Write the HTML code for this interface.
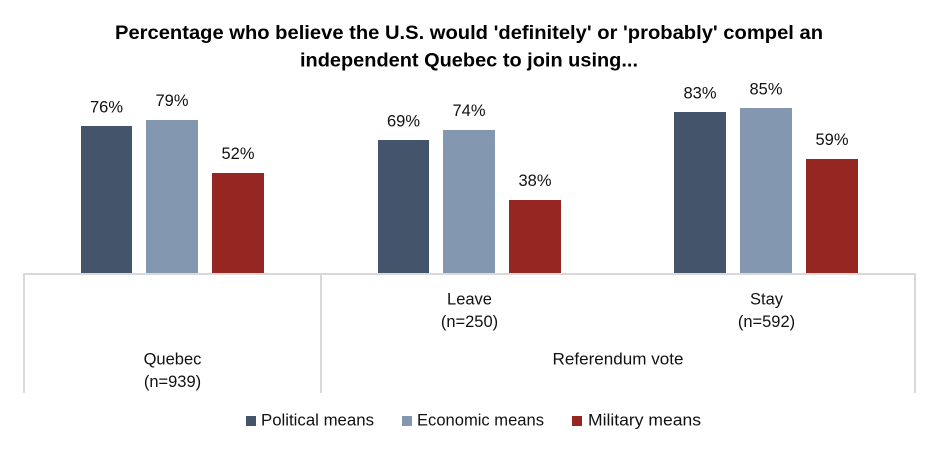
<!DOCTYPE html>
<html><head><meta charset="utf-8"><style>html,body{margin:0;padding:0;background:#fff}svg{display:block}</style></head><body>
<svg width="939" height="452" viewBox="0 0 939 452" xmlns="http://www.w3.org/2000/svg" font-family="'Liberation Sans', Arial, sans-serif">
<rect width="939" height="452" fill="#fff"/>
<text x="469" y="39" text-anchor="middle" font-size="19.5" font-weight="bold" fill="#000" textLength="708" lengthAdjust="spacingAndGlyphs">Percentage who believe the U.S. would 'definitely' or 'probably' compel an</text>
<text x="469" y="66.5" text-anchor="middle" font-size="19.5" font-weight="bold" fill="#000" textLength="338" lengthAdjust="spacingAndGlyphs">independent Quebec to join using...</text>
<g>
<rect x="81" y="126" width="51" height="147" fill="#44546A"/>
<rect x="146" y="120" width="52" height="153" fill="#8497B0"/>
<rect x="212" y="173" width="52" height="100" fill="#952622"/>
<rect x="378" y="140" width="51" height="133" fill="#44546A"/>
<rect x="443" y="130" width="52" height="143" fill="#8497B0"/>
<rect x="509" y="200" width="52" height="73" fill="#952622"/>
<rect x="674" y="112" width="52" height="161" fill="#44546A"/>
<rect x="740" y="108" width="52" height="165" fill="#8497B0"/>
<rect x="806" y="159" width="52" height="114" fill="#952622"/>
</g>
<g font-size="16.5" fill="#111" text-anchor="middle">
<text x="106.5" y="112.5" textLength="33" lengthAdjust="spacingAndGlyphs">76%</text>
<text x="172" y="106" textLength="33" lengthAdjust="spacingAndGlyphs">79%</text>
<text x="238" y="159" textLength="33" lengthAdjust="spacingAndGlyphs">52%</text>
<text x="403.5" y="126.5" textLength="33" lengthAdjust="spacingAndGlyphs">69%</text>
<text x="469" y="116" textLength="33" lengthAdjust="spacingAndGlyphs">74%</text>
<text x="535" y="186" textLength="33" lengthAdjust="spacingAndGlyphs">38%</text>
<text x="700" y="98.5" textLength="33" lengthAdjust="spacingAndGlyphs">83%</text>
<text x="766" y="94.5" textLength="33" lengthAdjust="spacingAndGlyphs">85%</text>
<text x="832" y="145" textLength="33" lengthAdjust="spacingAndGlyphs">59%</text>
</g>
<g stroke="#D9D9D9" stroke-width="2" fill="none">
<line x1="23" y1="274" x2="916" y2="274"/>
<line x1="24" y1="273" x2="24" y2="393"/>
<line x1="321" y1="273" x2="321" y2="393"/>
<line x1="915" y1="273" x2="915" y2="393"/>
</g>
<g font-size="16.5" fill="#111" text-anchor="middle">
<text x="469.5" y="304.5">Leave</text>
<text x="469.5" y="327">(n=250)</text>
<text x="766.5" y="304.5">Stay</text>
<text x="766.5" y="327">(n=592)</text>
<text x="172.5" y="364.5">Quebec</text>
<text x="172.5" y="387">(n=939)</text>
<text x="618" y="364.5" textLength="131" lengthAdjust="spacingAndGlyphs">Referendum vote</text>
</g>
<g font-size="16.5" fill="#111">
<rect x="246" y="416" width="10" height="10" fill="#44546A"/>
<text x="261" y="425.5" textLength="113" lengthAdjust="spacingAndGlyphs">Political means</text>
<rect x="402" y="416" width="10" height="10" fill="#8497B0"/>
<text x="417" y="425.5" textLength="127" lengthAdjust="spacingAndGlyphs">Economic means</text>
<rect x="572" y="416" width="10" height="10" fill="#952622"/>
<text x="588" y="425.5" textLength="113" lengthAdjust="spacingAndGlyphs">Military means</text>
</g>
</svg>
</body></html>
